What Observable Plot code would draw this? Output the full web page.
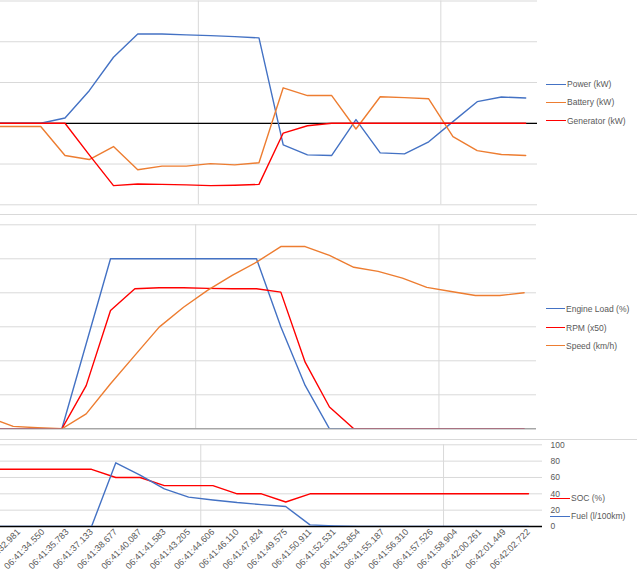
<!DOCTYPE html>
<html><head><meta charset="utf-8">
<script src="https://cdn.jsdelivr.net/npm/d3@7"></script>
<script src="https://cdn.jsdelivr.net/npm/@observablehq/plot@0.6"></script>
<style>
html,body{margin:0;padding:0;background:#fff;}
#chart{position:relative;width:637px;height:575px;overflow:hidden;background:#fff;font-family:"Liberation Sans",Arial,sans-serif;}
.panel{position:absolute;left:0;}
.sep{position:absolute;left:0;width:637px;height:1px;background:#d9d9d9;}
.leg{position:absolute;font-size:8.5px;color:#595959;white-space:nowrap;line-height:10px;}
.sw{position:absolute;height:0;border-top:1.3px solid;}
</style></head><body><div id="chart"></div>
<script>
// time categories (first one lies just outside the visible area)
const times = ["06:41:31.540","06:41:32.981","06:41:34.550","06:41:35.783","06:41:37.133","06:41:38.677","06:41:40.087","06:41:41.583","06:41:43.205","06:41:44.606","06:41:46.110","06:41:47.824","06:41:49.575","06:41:50.911","06:41:52.531","06:41:53.854","06:41:55.187","06:41:56.310","06:41:57.526","06:41:58.904","06:42:00.261","06:42:01.449","06:42:02.722"];

// top panel (kW)
const power     = [0,0,0,2.6,16,32.4,43.8,43.8,43.4,43.0,42.5,41.9,-10.6,-15.5,-15.8,1.8,-14.5,-15,-9.1,0.8,10.6,12.9,12.4];
const battery   = [-1.6,-1.6,-1.6,-15.8,-17.8,-11.4,-22.8,-21,-21,-19.8,-20.4,-19.4,17.4,13.6,13.6,-2.8,13,12.6,12,-6.5,-13.4,-15.3,-15.8];
const generator = [0,0,0,0,-15.5,-30.6,-29.8,-30,-30.2,-30.6,-30.4,-30,-4.8,-1.2,0,0,0,0,0,0,0,0,0];
const topTicks  = [-40,-20,0,20,40,60];

// middle panel
const engineLoad = [0,0,0,0,50,100,100,100,100,100,100,100,60,25.5,0,0,0,0,0,0,0,0,0];
const rpm50      = [0,0,0,0,25.4,69.6,82.4,83,83,82.6,82.4,82.4,80.4,39.2,12.8,0,0,0,0,0,0,0,0];
const speed      = [6.8,1.4,0.6,0,8.8,26.5,43.2,59.8,71.5,81.6,90.2,98,107.2,107.2,102,95,92.6,88.6,83.2,80.8,78.4,78.4,80];
const midTicks   = [0,20,40,60,80,100,120];

// bottom panel
const soc  = [70,70,70,70,70,60,60,50,50,50,40,40,30,40,40,40,40,40,40,40,40,40,40];
const fuel = [0,0,0,0,0,78,63,46,36,32.5,29.3,26.8,24.4,2,0.8,0,0,0,0,0,0,0,0];
const botTicks = [0,20,40,60,80,100];

// vertical major gridlines (category units)
const majorGrid = [8.5, 18.5];

const BLUE = "#4472C4", ORANGE = "#ED7D31", RED = "#FF0000", GRID = "#d9d9d9";
const idx = d3.range(times.length);
const font = "Liberation Sans, Arial, sans-serif";
const chart = document.getElementById("chart");

function line(arr, color) {
  return Plot.line(idx, {x: i => i, y: i => arr[i], stroke: color, strokeWidth: 1.4, clip: true});
}
function place(svg, top) {
  const wrap = document.createElement("div");
  wrap.className = "panel"; wrap.style.top = top + "px";
  wrap.appendChild(svg); chart.appendChild(wrap);
}
function legend(items, x0, x1, tx) {
  for (const [label, color, y] of items) {
    const sw = document.createElement("div");
    sw.className = "sw"; sw.style.left = x0 + "px"; sw.style.width = (x1 - x0) + "px";
    sw.style.top = (y - 0.6) + "px"; sw.style.borderColor = color;
    chart.appendChild(sw);
    const t = document.createElement("div");
    t.className = "leg"; t.textContent = label; t.style.left = tx + "px"; t.style.top = (y - 5) + "px";
    chart.appendChild(t);
  }
}

// TOP
place(Plot.plot({
  width: 637, height: 215, marginLeft: 0, marginRight: 100, marginTop: 0.5, marginBottom: 10.7,
  style: {fontFamily: font, background: "transparent"},
  x: {domain: [1, 22], range: [16, 525.2], axis: null},
  y: {domain: [-40, 60], axis: null},
  marks: [
    Plot.ruleY(topTicks, {stroke: GRID}),
    Plot.ruleX(majorGrid, {stroke: GRID}),
    Plot.ruleY([0], {stroke: "#000", strokeWidth: 1.3}),
    line(power, BLUE), line(battery, ORANGE), line(generator, RED)
  ]
}), 0);

// MIDDLE
place(Plot.plot({
  width: 637, height: 224, marginLeft: 0, marginRight: 101, marginTop: 9.3, marginBottom: 10.7,
  style: {fontFamily: font, background: "transparent"},
  x: {domain: [1, 22], range: [12.7, 523.6], axis: null},
  y: {domain: [0, 120], axis: null},
  marks: [
    Plot.ruleY(midTicks, {stroke: GRID}),
    Plot.ruleX(majorGrid, {stroke: GRID}),
    Plot.ruleY([0], {stroke: "#8c8c8c"}),
    line(engineLoad, BLUE), line(rpm50, RED), line(speed, ORANGE)
  ]
}), 215);

// BOTTOM
place(Plot.plot({
  width: 637, height: 136, marginLeft: 0, marginRight: 95, marginTop: 5.3, marginBottom: 49,
  style: {fontFamily: font, background: "transparent"},
  x: {domain: [1, 22], range: [18.2, 528]},
  y: {domain: [0, 100]},
  marks: [
    Plot.ruleY(botTicks, {stroke: GRID}),
    Plot.ruleX(majorGrid, {stroke: GRID}),
    Plot.ruleY([0], {stroke: "#000", strokeWidth: 1.3}),
    line(soc, RED), line(fuel, BLUE),
    Plot.axisY({anchor: "right", ticks: botTicks, tickSize: 0, tickPadding: 8, fontSize: 8.5, fill: "#595959", label: null}),
    Plot.axisX({ticks: d3.range(1, times.length), tickFormat: i => times[i], tickRotate: -45, tickSize: 0, tickPadding: 4, fontSize: 9, fill: "#595959", label: null})
  ]
}), 439);

// separators between stacked charts
for (const y of [214, 439]) {
  const s = document.createElement("div"); s.className = "sep"; s.style.top = y + "px"; chart.appendChild(s);
}

legend([["Power (kW)", BLUE, 84.3], ["Battery (kW)", ORANGE, 102.3], ["Generator (kW)", RED, 121]], 546, 566, 567);
legend([["Engine Load (%)", BLUE, 309], ["RPM (x50)", RED, 327.7], ["Speed (km/h)", ORANGE, 346]], 546, 565, 566);
legend([["SOC (%)", RED, 498.3], ["Fuel (l/100km)", BLUE, 516.3]], 550, 570, 571);
</script></body></html>
